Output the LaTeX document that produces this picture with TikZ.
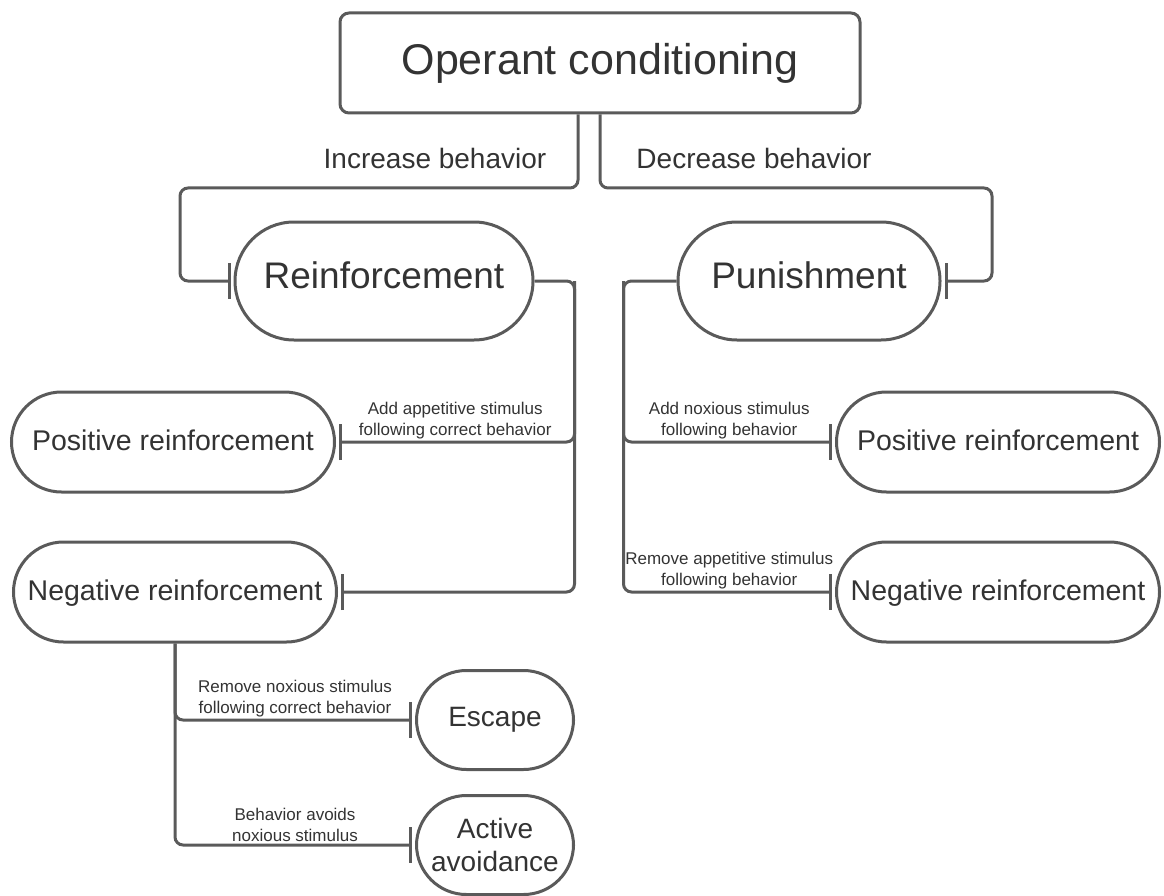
\documentclass[tikz,border=0pt]{standalone}
\usepackage{fontspec}
\setmainfont{Liberation Sans}
\usetikzlibrary{arrows.meta,positioning,calc}

\definecolor{linegray}{RGB}{90,90,90}
\definecolor{textgray}{RGB}{51,51,51}

\tikzset{
  titlebox/.style={draw=linegray, line width=3pt, rounded corners=9pt, text=textgray,
    minimum width=520pt, minimum height=100pt, font=\fontsize{43}{50}\selectfont},
  bigpill/.style={draw=linegray, line width=3pt, rounded corners=59pt, text=textgray,
    minimum width=298pt, minimum height=118pt, text height=27pt, text depth=12pt,
    font=\fontsize{37}{44}\selectfont},
  midpill/.style={draw=linegray, line width=3pt, rounded corners=50pt, text=textgray,
    minimum width=323pt, minimum height=100pt, text height=21pt, text depth=5pt,
    font=\fontsize{28.5}{34}\selectfont},
  smallpill/.style={draw=linegray, line width=3pt, rounded corners=50pt, text=textgray,
    minimum width=157pt, minimum height=99pt, align=center, font=\fontsize{28}{31}\selectfont},
  branchlabel/.style={text=textgray, font=\fontsize{28}{34}\selectfont},
  steplabel/.style={text=textgray, align=center, inner sep=2pt, font=\fontsize{17}{21}\selectfont},
  conn/.style={draw=linegray, line width=3pt, rounded corners=8pt},
  barend/.style={-{Bar[width=36pt, line width=3pt]}, shorten >=3pt}
}

\begin{document}
\begin{tikzpicture}[x=1pt,y=-1pt]
	\useasboundingbox (0,0) rectangle (1164,896);

	% top
	\node[titlebox] (oc) at (600,63) {Operant conditioning};

	% second level
	\node[bigpill] (reinf) at (384,281) {Reinforcement};
	\node[bigpill, minimum width=262pt] (pun) at (809,281) {Punishment};

	% third level
	\node[midpill] (posL) at (173,442) {Positive reinforcement};
	\node[midpill] (negL) at (175,592) {Negative reinforcement};
	\node[midpill] (posR) at (998,442) {Positive reinforcement};
	\node[midpill] (negR) at (998,592) {Negative reinforcement};

	% fourth level
	\node[smallpill] (escape) at (495,720) {Escape};
	\node[smallpill] (avoid) at (495,845) {\raisebox{2pt}{Active}\\avoidance};

	% bends and spines
	\coordinate (lbend) at (180,188);
	\coordinate (rbend) at (992,188);
	\coordinate (rspine) at ($(reinf.east)+(40,0)$);
	\coordinate (pspine) at ($(pun.west)+(-53,0)$);

	% connectors
	\draw[conn, barend] ([xshift=-22pt]oc.south) |- (lbend) |- (reinf.west);
	\draw[conn, barend] (oc.south) |- (rbend) |- (pun.east);

	\draw[conn, barend] (reinf.east) -- (rspine) |- (negL.east);
	\draw[conn, barend] (rspine) |- (posL.east);

	\draw[conn, barend] (pun.west) -- (pspine) |- (negR.west);
	\draw[conn, barend] (pspine) |- (posR.west);

	\draw[conn, barend] (negL.south) |- (avoid.west);
	\draw[conn, barend] (negL.south) |- (escape.west);

	% Text Node
	\node[branchlabel] (incr) at (435,158) {Increase behavior};
	% Text Node
	\node[branchlabel] (decr) at (754,158) {Decrease behavior};

	% step labels
	\path (posL.east) -- (posL.east -| rspine) node[midway, above=1pt, steplabel] (addapp) {Add appetitive stimulus\\following correct behavior};
	\path (posR.west -| pspine) -- (posR.west) node[midway, above=1pt, steplabel] (addnox) {Add noxious stimulus\\following behavior};
	\path (negR.west -| pspine) -- (negR.west) node[midway, above=1pt, steplabel] (remapp) {Remove appetitive stimulus\\following behavior};
	\path (escape.west -| negL.south) -- (escape.west) node[midway, above=1pt, steplabel] (remnox) {Remove noxious stimulus\\following correct behavior};
	\path (avoid.west -| negL.south) -- (avoid.west) node[midway, above=1pt, steplabel] (avoids) {Behavior avoids\\noxious stimulus};
\end{tikzpicture}
\end{document}
